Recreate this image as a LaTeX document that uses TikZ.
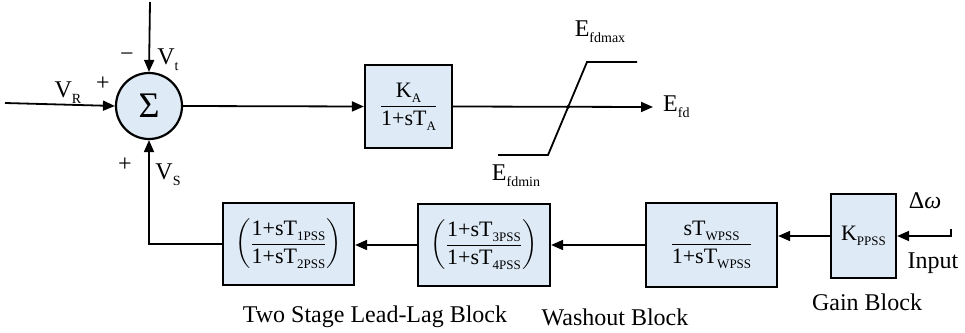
\documentclass[tikz,border=0pt]{standalone}
\usepackage{amsmath}
\usepackage{fontspec}
\setmainfont{Liberation Serif}
\usetikzlibrary{positioning,arrows.meta,calc}
\definecolor{blkfill}{RGB}{222,234,246}
\newcommand{\sbs}[1]{\raisebox{-6pt}{\fontsize{14}{14}\selectfont #1}}
\newcommand{\bsb}[1]{\raisebox{-5pt}{\fontsize{13}{13}\selectfont #1}}

\begin{document}
\begin{tikzpicture}[x=1pt,y=-1pt,
  every node/.style={font=\fontsize{24}{28}\selectfont,inner sep=0pt},
  blk/.style={rectangle,draw=black,line width=2.2pt,fill=blkfill,
              font=\fontsize{22}{26}\selectfont},
  sumblk/.style={circle,draw=black,line width=2.2pt,fill=blkfill,
                 minimum size=66pt},
  arr/.style={-{Triangle[length=12pt,width=10pt]},line width=1.8pt},
  ln/.style={line width=1.8pt},
]
\useasboundingbox (0,0) rectangle (965,332);

\node[sumblk] at (149,106)  (sum)   {\fontsize{36}{36}\selectfont Σ};
\node[blk,minimum width=87pt,minimum height=83pt] at (408.5,106.5) (ka)
  {$\dfrac{\text{K\bsb{A}}}{\text{1+sT\bsb{A}}}$};

\node[blk,minimum width=131pt,minimum height=82pt] at (288.5,244) (leadA)
  {$\left(\dfrac{\text{1+sT\bsb{1PSS}}}{\text{1+sT\bsb{2PSS}}}\right)$};
\node[blk,minimum width=132pt,minimum height=82pt] at (484,245)   (leadB)
  {$\left(\dfrac{\text{1+sT\bsb{3PSS}}}{\text{1+sT\bsb{4PSS}}}\right)$};
\node[blk,minimum width=131pt,minimum height=84pt] at (711.5,245) (wash)
  {$\dfrac{\text{sT\bsb{WPSS}}}{\text{1+sT\bsb{WPSS}}}$};
\node[blk,minimum width=65pt,minimum height=84pt]  at (863.5,236) (gain)
  {K\bsb{PPSS}};

\node[anchor=west,inner xsep=10pt] at (653,107) (efd) {E\sbs{fd}};
\node at (600,32)  (efdmax) {E\sbs{fdmax}};
\node at (516,176) (efdmin) {E\sbs{fdmin}};

\node at (68,93)   (vr)    {V\sbs{R}};
\node at (103,84)  (plusr) {+};
\node at (127,57)  (mint)  {−};
\node at (168,60)  (vt)    {V\sbs{t}};
\node at (125,165) (pluss) {+};
\node at (168,175) (vs)    {V\sbs{S}};

\node at (925,201) (dw)       {Δ\textit{ω}};
\node at (933,263) (inlab)    {Input};
\node at (867,302) (gainlab)  {Gain Block};
\node at (615,317) (washlab)  {Washout Block};
\node at (375,317) (leadlab)  {Two Stage Lead-Lag Block};

\coordinate (vtin) at (150,2);
\coordinate (vrin) at (5,103);
\coordinate (inp)  at (951,229);
\coordinate (satc) at (568,107);

\draw[arr] (vtin) -- (sum.north);
\draw[arr] (vrin) -- (sum.west);
\draw[arr] (sum.east) -- (ka.west);
\draw[arr] (ka.east)  -- (efd.west);
\draw[ln] (498,155) -- (548,155) -- (587,62) -- (637,62);
\draw[line width=1pt] (satc) circle (1.5pt);

\draw[arr] (inp) |- (gain.east);
\draw[arr] (gain.west)  -- (gain.west -| wash.east);
\draw[arr] (wash.west)  -- (wash.west -| leadB.east);
\draw[arr] (leadB.west) -- (leadB.west -| leadA.east);
\draw[arr] (leadA.west) -| (sum.south);
\end{tikzpicture}
\end{document}
